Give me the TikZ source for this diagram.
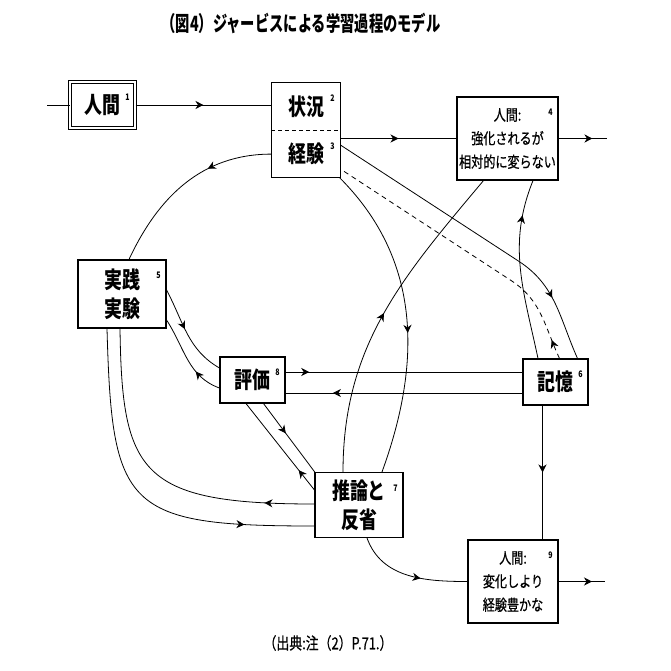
\documentclass[tikz,border=0pt]{standalone}
\usepackage{fontspec}
\usetikzlibrary{positioning,arrows.meta,decorations.markings}
\setmainfont{Noto Sans CJK JP}[FakeStretch=0.78]
\newfontfamily\titlefont{Noto Sans CJK JP}[FakeStretch=0.68]
\newfontfamily\smallfont{Noto Sans CJK JP}[FakeStretch=0.78,FakeBold=0.6]

\begin{document}
\begin{tikzpicture}[x=1pt,y=1pt,
		main node/.style={rectangle,draw,line width=1.1pt,inner sep=0pt,align=center,font=\fontsize{23}{29}\selectfont\bfseries},
		text node/.style={rectangle,draw,line width=1.1pt,inner sep=0pt,align=center,font=\smallfont\fontsize{15.5}{23.5}\selectfont},
		num/.style={inner sep=0pt,font=\fontsize{9}{9}\selectfont\bfseries},
		flow/.style={line width=0.8pt},
		mid arrow/.style={flow,postaction={decorate,solid,decoration={markings,mark=at position #1 with {\arrow{Stealth[length=8pt,width=8pt,inset=2.5pt]}}}}}]
		
		\useasboundingbox (0,0) rectangle (671,-671);
		
		\node[font=\titlefont\fontsize{21}{21}\selectfont\bfseries] (title) at (301,-23) {（図4）ジャービスによる学習過程のモデル};
		\node[font=\smallfont\fontsize{16.5}{16.5}\selectfont] (source) at (328,-643) {（出典:注（2）P.71.）};
		
		\node[main node,double,double distance=2pt,line width=1pt,minimum width=65pt,minimum height=46pt] (1) at (102.5,-105) {人間};
		\node[main node,draw=none,minimum width=68pt,minimum height=47pt] (2) at (306,-106.5) {状況};
		\node[main node,draw=none,minimum width=68pt,minimum height=46pt,below=0pt of 2] (3) {経験};
		\node[text node,minimum width=101pt,minimum height=83pt] (4) at (507.5,-138.5) {人間:\\強化されるが\\相対的に変らない};
		\node[main node,minimum width=88pt,minimum height=68pt] (5) at (122,-294) {実践\\実験};
		\node[main node,minimum width=65pt,minimum height=46pt] (6) at (555.5,-382) {記憶};
		\node[main node,minimum width=88pt,minimum height=65pt] (7) at (359,-505) {推論と\\反省};
		\node[main node,minimum width=65pt,minimum height=46pt] (8) at (252.5,-380) {評価};
		\node[text node,minimum width=90pt,minimum height=83pt] (9) at (513,-581.5) {人間:\\変化しより\\経験豊かな};
		
		% box of 2 and 3
		\draw[line width=1.1pt] (2.north west) rectangle (3.south east);
		\draw[line width=1pt,dash pattern=on 4pt off 3pt] (2.south west) -- (2.south east);
		
		\foreach \n in {1,...,9}
		\node[num] at ([shift={(-8,-16)}]\n.north east) {\n};
		
		\coordinate (in) at (47,-105);
		\coordinate (out4) at (607,-138.5);
		\coordinate (out9) at (605,-581.5);
		
		\draw[flow] (in) -- (1.west);
		\draw[mid arrow=0.5] (1.east) -- (1.east -| 2.west);
		\draw[mid arrow=0.5] (4.west -| 3.east) -- (4.west);
		\draw[mid arrow=0.7] (4.east) -- (out4);
		\draw[mid arrow=0.72] (9.east) -- (out9);
		
		\draw[mid arrow=0.35] (3.west) to[out=180,in=65] ([xshift=7pt]5.north);
		\draw[mid arrow=0.8] ([yshift=9pt]3.east) -- ++(178,-116) to[out=-33,in=114] ([xshift=22pt]6.north);
		\draw[mid arrow=20pt,dash pattern=on 5pt off 4pt] ([xshift=4pt]6.north) to[out=115,in=-34] ++(-47,77) -- ([yshift=-15pt]3.east);
		\draw[mid arrow=0.55] ([xshift=-1pt]3.south east) to[out=-45,in=70] ([xshift=23pt]7.north);
		\draw[mid arrow=0.5] ([xshift=-16pt]7.north) to[out=90,in=-130] ([xshift=-24pt]4.south);
		\draw[mid arrow=0.8] ([xshift=-17.5pt]6.north) to[out=102,in=-112] ([xshift=25.5pt]4.south);
		
		\draw[mid arrow=0.45] ([yshift=4pt]5.east) to[out=-62,in=150] ([yshift=12pt]8.west);
		\draw[mid arrow=0.33] ([yshift=-8pt]8.west) to[out=160,in=-57] ([yshift=-26pt]5.east);
		\draw[mid arrow=0.1] ([yshift=8pt]8.east) -- ([yshift=8pt]8.east -| 6.west);
		\draw[mid arrow=0.8] ([yshift=-13pt]8.east -| 6.west) -- ([yshift=-13pt]8.east);
		\draw[mid arrow=0.43] ([xshift=11pt]8.south) -- ([xshift=1pt,yshift=-1pt]7.north west);
		\draw[mid arrow=0.23] ([yshift=15pt]7.west) -- ([xshift=-6.5pt]8.south);
		
		\draw[mid arrow=50pt] ([yshift=1pt]7.west) .. controls +(-175,0) and +(2,-144) .. ([xshift=-2pt]5.south);
		\draw[mid arrow=-70pt] ([xshift=-15pt]5.south) .. controls +(5,-180) and +(-190,0) .. ([yshift=-21pt]7.west);
		\draw[mid arrow=0.6] ([xshift=8pt]7.south) to[out=-70,in=180] (9.west);
		\draw[mid arrow=0.5] ([xshift=-13pt]6.south) -- ([xshift=-13pt]6.south |- 9.north);
		\end{tikzpicture}
\end{document}
